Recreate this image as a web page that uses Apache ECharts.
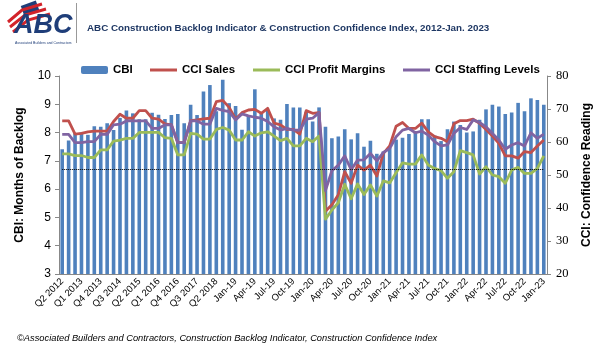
<!DOCTYPE html>
<html>
<head>
<meta charset="utf-8">
<title>ABC CBI & CCI</title>
<script src="https://cdn.jsdelivr.net/npm/echarts@6/dist/echarts.min.js"></script>
<style>
  * {margin: 0; padding: 0;}
  body {background: #fff;}
  #chart {width: 600px; height: 353px;}
</style>
</head>
<body>
<div id="chart"></div>
<script>
// quarterly part, then monthly part
var quarterLabels = ['Q2 2012','Q3 2012','Q4 2012',
  'Q1 2013','Q2 2013','Q3 2013','Q4 2013',
  'Q1 2014','Q2 2014','Q3 2014','Q4 2014',
  'Q1 2015','Q2 2015','Q3 2015','Q4 2015',
  'Q1 2016','Q2 2016','Q3 2016','Q4 2016',
  'Q1 2017','Q2 2017','Q3 2017','Q4 2017',
  'Q1 2018','Q2 2018','Q3 2018','Q4 2018'];
var monthLabels = ['Jan-19','Feb-19','Mar-19','Apr-19','May-19','Jun-19','Jul-19','Aug-19','Sep-19','Oct-19','Nov-19','Dec-19',
  'Jan-20','Feb-20','Mar-20','Apr-20','May-20','Jun-20','Jul-20','Aug-20','Sep-20','Oct-20','Nov-20','Dec-20',
  'Jan-21','Feb-21','Mar-21','Apr-21','May-21','Jun-21','Jul-21','Aug-21','Sep-21','Oct-21','Nov-21','Dec-21',
  'Jan-22','Feb-22','Mar-22','Apr-22','May-22','Jun-22','Jul-22','Aug-22','Sep-22','Oct-22','Nov-22','Dec-22',
  'Jan-23'];
var categories = quarterLabels.concat(monthLabels);

// CBI, months of backlog (left axis)
var cbi = [7.41,7.72,7.98,8.01,7.92,8.22,8.21,8.33,8.09,8.52,8.78,8.68,8.47,8.47,8.70,8.63,8.48,8.62,8.66,8.33,8.98,8.62,9.45,9.68,8.75,9.87,
  9.04,8.94,8.10,8.62,9.53,8.68,8.80,8.50,8.45,9.01,8.89,8.89,8.74,8.39,8.89,8.21,7.80,7.86,8.12,7.76,7.98,7.50,7.71,7.25,7.33,7.45,
  7.75,7.82,7.95,8.04,8.47,8.47,7.90,7.70,8.12,8.39,8.27,8.00,8.04,8.45,8.82,8.98,8.92,8.66,8.71,9.05,8.75,9.21,9.15,8.98];

// CCI readings (right axis)
var cciSales = [66.4,66.4,62.4,62.6,63.1,63.3,63.3,63.3,66.2,68.4,67.2,67.2,69.5,69.5,67.2,66.9,65.5,65.2,59.8,59.8,66.5,66.7,67.0,67.2,72.2,72.6,
  70.5,67.0,68.9,69.7,69.9,68.7,70.2,65.7,65.2,63.8,63.8,62.4,69.5,68.7,68.9,39.0,41.0,44.0,51.0,47.5,53.0,51.5,53.0,49.7,56.5,58.8,
  64.8,65.9,64.1,64.1,65.7,63.1,61.6,61.1,60.1,65.5,66.5,66.5,66.9,65.7,63.8,61.8,59.6,55.8,55.8,55.1,57.1,56.8,58.8,60.6];
var cciProfit = [56.4,56.4,55.9,55.9,55.3,55.3,57.6,57.6,60.3,60.6,61.1,61.1,62.9,62.9,62.9,62.9,61.3,61.1,56.1,56.1,62.6,62.4,60.9,60.9,63.8,64.4,
  63.6,60.6,60.6,63.1,61.8,62.8,63.1,61.8,60.4,61.1,58.8,58.8,61.1,60.1,61.8,36.6,39.4,41.6,47.2,42.8,47.3,44.1,47.0,43.6,48.2,47.6,
  50.7,53.7,53.3,53.3,56.1,53.0,52.0,51.3,49.0,51.0,57.4,56.8,56.1,50.3,52.5,50.0,49.5,47.5,51.5,52.3,50.5,50.5,52.0,55.8];
var cciStaffing = [62.3,62.3,59.8,59.8,60.1,60.1,62.3,62.3,65.2,65.4,66.4,66.4,66.4,66.4,64.1,64.1,65.2,65.2,59.8,59.8,66.4,66.4,65.4,65.4,70.2,69.6,
  69.2,66.7,68.5,67.9,67.5,67.2,66.2,64.6,63.6,64.1,63.6,63.6,66.9,67.2,68.9,45.3,51.3,53.0,55.8,51.6,54.5,54.6,56.5,54.3,56.8,58.0,
  61.6,63.6,64.1,62.8,63.3,62.1,60.1,58.8,59.1,62.6,64.4,63.8,66.7,65.9,64.6,62.6,60.6,57.8,59.1,59.8,58.8,62.8,61.1,62.4];

var refLine = 6.7;

var chart = echarts.init(document.getElementById('chart'));

var legendText = {fontFamily: 'Liberation Sans', fontSize: 11.5, fontWeight: 'bold', color: '#000'};

var option = {
  animation: false,
  textStyle: {fontFamily: 'Liberation Sans'},
  title: {
    text: 'ABC Construction Backlog Indicator & Construction Confidence Index, 2012-Jan. 2023',
    left: 82, top: 18,
    textStyle: {fontFamily: 'Liberation Sans', fontSize: 9.8, fontWeight: 'bold', color: '#1F3864'}
  },
  legend: [
    {data: ['CBI'], left: 76, top: 59, itemWidth: 27, itemHeight: 8, itemGap: 4, textStyle: legendText},
    {data: [{name: 'CCI Sales', icon: 'rect'}], left: 145, top: 59, itemWidth: 27, itemHeight: 3, textStyle: legendText},
    {data: [{name: 'CCI Profit Margins', icon: 'rect'}], left: 248, top: 59, itemWidth: 27, itemHeight: 3, textStyle: legendText},
    {data: [{name: 'CCI Staffing Levels', icon: 'rect'}], left: 398, top: 59, itemWidth: 27, itemHeight: 3, textStyle: legendText}
  ],
  grid: {left: 59, right: 53, top: 76, bottom: 79, outerBoundsMode: 'none'},
  xAxis: {
    type: 'category',
    data: categories,
    boundaryGap: true,
    axisLine: {lineStyle: {color: '#888'}},
    axisTick: {interval: 0, length: 3, lineStyle: {color: '#888'}},
    axisLabel: {interval: 2, rotate: 45, fontSize: 9.5, color: '#000', margin: 6}
  },
  yAxis: [
    {
      type: 'value', min: 3, max: 10, interval: 1,
      name: 'CBI: Months of Backlog', nameLocation: 'middle', nameGap: 33,
      nameTextStyle: {fontSize: 12, fontWeight: 'bold', color: '#000'},
      axisLine: {show: true, lineStyle: {color: '#888'}},
      axisTick: {show: true, length: 4, lineStyle: {color: '#888'}},
      axisLabel: {fontSize: 12, color: '#000', margin: 8},
      splitLine: {show: false}
    },
    {
      type: 'value', min: 20, max: 80, interval: 10,
      name: 'CCI: Confidence Reading', nameLocation: 'middle', nameGap: 34, nameRotate: 90,
      nameTextStyle: {fontSize: 12, fontWeight: 'bold', color: '#000'},
      axisLine: {show: true, lineStyle: {color: '#888'}},
      axisTick: {show: true, length: 4, lineStyle: {color: '#888'}},
      axisLabel: {fontSize: 12.5, color: '#000', margin: 9, fontFamily: 'Liberation Serif'},
      splitLine: {show: false}
    }
  ],
  series: [
    {
      name: 'CBI', type: 'bar', yAxisIndex: 0, data: cbi,
      barWidth: 3.6,
      itemStyle: {color: '#4F81BD'},
      markLine: {
        silent: true, symbol: 'none', label: {show: false},
        lineStyle: {color: '#000', type: 'dotted', width: 1},
        data: [[{xAxis: 0, yAxis: refLine}, {xAxis: 75, yAxis: refLine}]]
      }
    },
    {name: 'CCI Sales', type: 'line', yAxisIndex: 1, data: cciSales, showSymbol: false,
      lineStyle: {width: 2.8, color: '#C0504D', join: 'round'}, itemStyle: {color: '#C0504D'}},
    {name: 'CCI Profit Margins', type: 'line', yAxisIndex: 1, data: cciProfit, showSymbol: false,
      lineStyle: {width: 2.8, color: '#9BBB59', join: 'round'}, itemStyle: {color: '#9BBB59'}},
    {name: 'CCI Staffing Levels', type: 'line', yAxisIndex: 1, data: cciStaffing, showSymbol: false,
      lineStyle: {width: 2.8, color: '#8064A2', join: 'round'}, itemStyle: {color: '#8064A2'}}
  ],
  graphic: [
    // logo, roughly
    {type: 'rect', shape: {x: 22, y: 3, width: 16, height: 11}, style: {fill: '#1F3E79'}, rotation: 0.35, originX: 30, originY: 8},
    {type: 'polyline', shape: {points: [[8, 22], [22, 10], [42, 4]]}, style: {stroke: '#D2232A', lineWidth: 3, fill: null}},
    {type: 'polyline', shape: {points: [[10, 27], [25, 15], [46, 9]]}, style: {stroke: '#D2232A', lineWidth: 3, fill: null}},
    {type: 'polyline', shape: {points: [[13, 32], [28, 20], [50, 14]]}, style: {stroke: '#D2232A', lineWidth: 3, fill: null}},
    {type: 'text', left: 14, top: 12, style: {text: 'ABC', font: 'italic bold 27px Liberation Sans', fill: '#1F3E79'}},
    {type: 'text', left: 15, top: 41, style: {text: 'Associated Builders and Contractors', font: '3.5px Liberation Sans', fill: '#1F3E79'}},
    {type: 'line', shape: {x1: 76.5, y1: 3, x2: 76.5, y2: 43}, style: {stroke: '#999', lineWidth: 1}},
    // source note
    {type: 'text', left: 17, top: 334, style: {text: '\u00A9Associated Builders and Contractors, Construction Backlog Indicator, Construction Confidence Index',
      font: 'italic 9.3px Liberation Sans', fill: '#000'}}
  ]
};

chart.setOption(option);
</script>
</body>
</html>
